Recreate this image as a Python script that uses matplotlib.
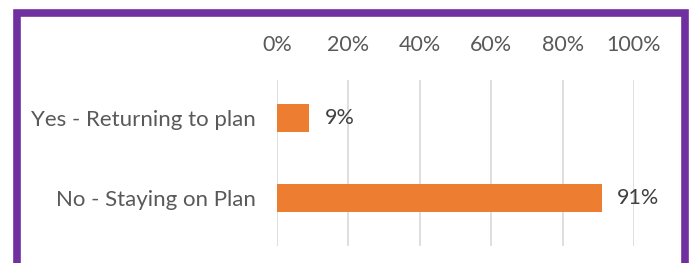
import matplotlib.pyplot as plt
from matplotlib.patches import Rectangle

categories = ['Yes - Returning to plan', 'No - Staying on Plan']
values = [0.09, 0.91]
value_labels = ['9%', '91%']
ticks = [0, 0.2, 0.4, 0.6, 0.8, 1.0]
tick_labels = ['0%', '20%', '40%', '60%', '80%', '100%']

plt.rcParams['font.family'] = ['Lato', 'DejaVu Sans']
text_color = '#595959'

W, H = 690, 263
fig = plt.figure(figsize=(W / 100, H / 100), dpi=100)

# purple frame (bottom edge runs off the picture)
fig.patches.append(Rectangle((16.5 / W, -0.2), (685 - 16.5) / W, 1.2 - 12.5 / H,
                             transform=fig.transFigure, fill=False,
                             edgecolor='#7030A0', linewidth=5.5, zorder=0))

ax = fig.add_axes([277 / W, 1 - 246 / H, (634 - 277) / W, (246 - 80) / H])

ypos = list(range(len(categories)))
ax.barh(ypos, values, height=0.35, color='#ED7D31', zorder=3)
for y, v, lab in zip(ypos, values, value_labels):
    ax.annotate(lab, (v, y), xytext=(11, 0), textcoords='offset points',
                va='center', ha='left', fontsize=15.5, color='#404040')

ax.set_xlim(0, 1)
ax.set_ylim(1.606, -0.469)
ax.set_xticks(ticks)
ax.set_xticklabels(tick_labels)
ax.set_yticks(ypos)
ax.set_yticklabels(categories)
ax.xaxis.tick_top()
ax.tick_params(axis='x', length=0, pad=18, labelsize=15.5, labelcolor=text_color)
ax.tick_params(axis='y', length=0, pad=15, labelsize=16, labelcolor=text_color)
ax.grid(axis='x', color='#D9D9D9', linewidth=1.2, zorder=0)
for s in ax.spines.values():
    s.set_visible(False)

fig.savefig('out.png', dpi=100)
